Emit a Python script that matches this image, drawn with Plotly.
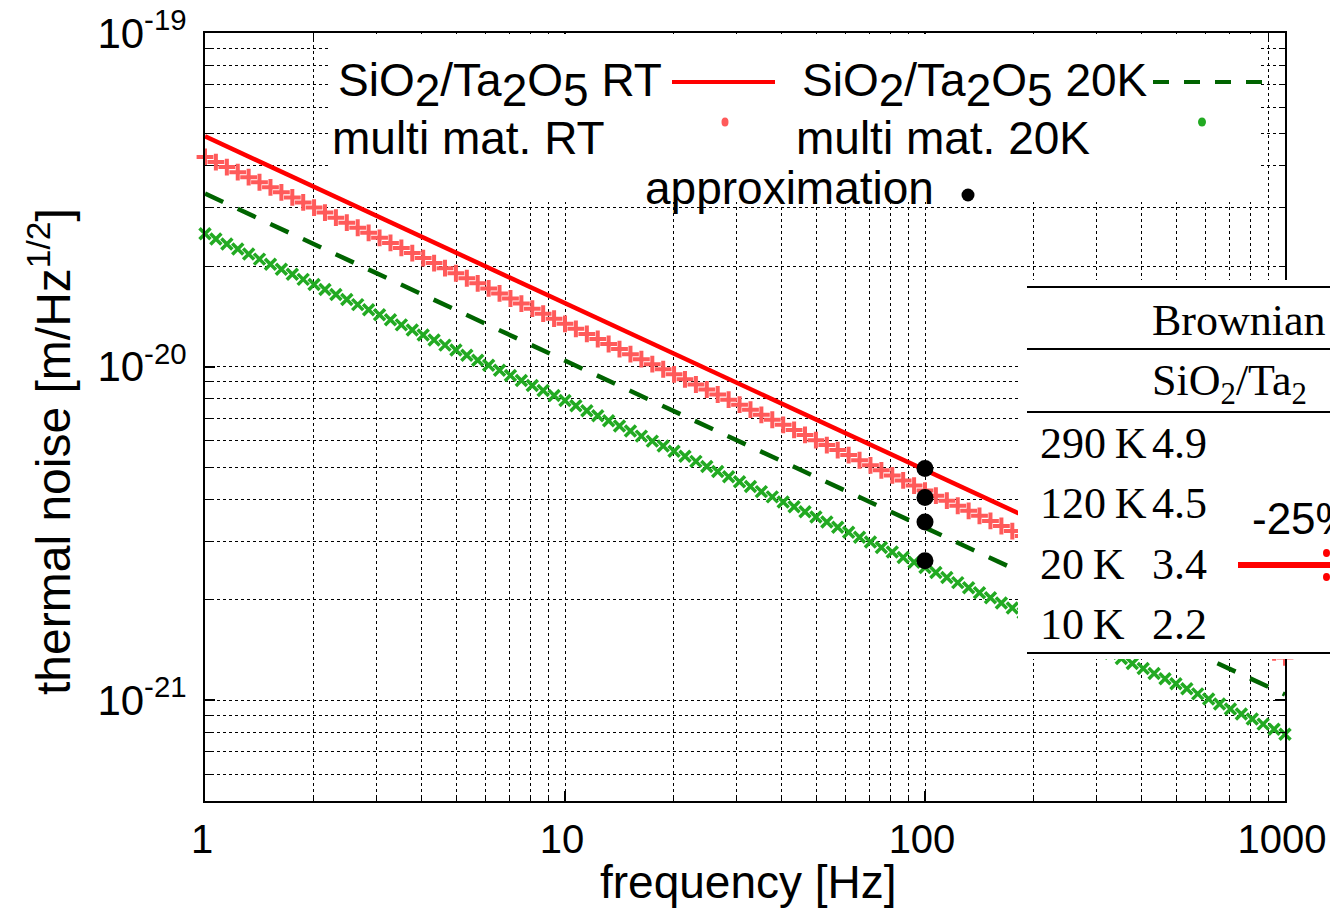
import plotly.graph_objects as go

# ---------------- data (noise values in units of 1e-21 m/Hz^1/2) ----------------
SCALE = 1e-21

freq_line = [1, 1000]
sio2_rt_line = [49.0, 1.55]
sio2_20k_line = [33.0, 1.04]

freq_samples = [
    1.000, 1.072, 1.150, 1.233, 1.322, 1.417, 1.520, 1.630, 1.748, 1.874, 2.009,
    2.154, 2.310, 2.477, 2.656, 2.848, 3.054, 3.275, 3.511, 3.765, 4.037, 4.329,
    4.642, 4.977, 5.337, 5.722, 6.136, 6.579, 7.055, 7.565, 8.111, 8.697, 9.326,
    10.00, 10.72, 11.50, 12.33, 13.22, 14.17, 15.20, 16.30, 17.48, 18.74, 20.09,
    21.54, 23.10, 24.77, 26.56, 28.48, 30.54, 32.75, 35.11, 37.65, 40.37, 43.29,
    46.42, 49.77, 53.37, 57.22, 61.36, 65.79, 70.55, 75.65, 81.11, 86.97, 93.26,
    100.0, 107.2, 115.0, 123.3, 132.2, 141.7, 152.0, 163.0, 174.8, 187.4, 200.9,
    215.4, 231.0, 247.7, 265.6, 284.8, 305.4, 327.5, 351.1, 376.5, 403.7, 432.9,
    464.2, 497.7, 533.7, 572.2, 613.6, 657.9, 705.5, 756.5, 811.1, 869.7, 932.6,
    1000.0,
]

multi_rt = [
    42.50, 41.04, 39.64, 38.28, 36.96, 35.70, 34.47, 33.29, 32.15, 31.05, 29.98,
    28.95, 27.96, 27.00, 26.08, 25.18, 24.32, 23.49, 22.68, 21.90, 21.15, 20.43,
    19.73, 19.05, 18.40, 17.77, 17.16, 16.57, 16.00, 15.45, 14.92, 14.41, 13.92,
    13.44, 12.98, 12.53, 12.10, 11.69, 11.29, 10.90, 10.53, 10.17, 9.82, 9.48,
    9.16, 8.84, 8.54, 8.25, 7.96, 7.69, 7.43, 7.17, 6.93, 6.69, 6.46,
    6.24, 6.02, 5.82, 5.62, 5.43, 5.24, 5.06, 4.89, 4.72, 4.56, 4.40,
    4.250, 4.104, 3.964, 3.828, 3.696, 3.570, 3.447, 3.329, 3.215, 3.105, 2.998,
    2.895, 2.796, 2.700, 2.608, 2.518, 2.432, 2.349, 2.268, 2.190, 2.115, 2.043,
    1.973, 1.905, 1.840, 1.777, 1.716, 1.657, 1.600, 1.545, 1.492, 1.441, 1.392,
    1.344,
]

multi_20k = [
    25.00, 24.14, 23.32, 22.52, 21.74, 21.00, 20.28, 19.58, 18.91, 18.26, 17.64,
    17.03, 16.45, 15.88, 15.34, 14.81, 14.31, 13.82, 13.34, 12.88, 12.44, 12.02,
    11.60, 11.21, 10.82, 10.45, 10.09, 9.75, 9.41, 9.09, 8.78, 8.48, 8.19,
    7.91, 7.63, 7.37, 7.12, 6.88, 6.64, 6.41, 6.19, 5.98, 5.78, 5.58,
    5.39, 5.20, 5.02, 4.85, 4.68, 4.52, 4.37, 4.22, 4.07, 3.93, 3.80,
    3.67, 3.54, 3.42, 3.30, 3.19, 3.08, 2.98, 2.87, 2.78, 2.68, 2.59,
    2.500, 2.414, 2.332, 2.252, 2.174, 2.100, 2.028, 1.958, 1.891, 1.826, 1.764,
    1.703, 1.645, 1.588, 1.534, 1.481, 1.431, 1.382, 1.334, 1.288, 1.244, 1.202,
    1.160, 1.121, 1.082, 1.045, 1.009, 0.975, 0.941, 0.909, 0.878, 0.848, 0.819,
    0.791,
]

approx_freq = [100, 100, 100, 100]
approx_vals = [4.95, 4.05, 3.42, 2.62]

table_header = "Brownian"
table_subheader = "SiO<sub>2</sub>/Ta<sub>2</sub>"
table_temps = ["290\u2009K", "120\u2009K", "20\u2009K", "10\u2009K"]
table_vals = ["4.9", "4.5", "3.4", "2.2"]
reduction_label = "-25%"

x_tick_vals = [1, 10, 100, 1000]
x_tick_text = ["1", "10", "100", "1000"]
x_minor_vals = [m * d for d in (1, 10, 100) for m in range(2, 10)]
y_tick_vals = [1e-21, 1e-20, 1e-19]
y_tick_text = ["10<sup>-21</sup>", "10<sup>-20</sup>", "10<sup>-19</sup>"]
y_minor_vals = [m * d for d in (1e-22, 1e-21, 1e-20) for m in range(2, 10)]

SUB = '<sub><span style="font-size:46px">{}</span></sub>'
legend_names = [
    "SiO" + SUB.format(2) + "/Ta" + SUB.format(2) + "O" + SUB.format(5) + " RT",
    "SiO" + SUB.format(2) + "/Ta" + SUB.format(2) + "O" + SUB.format(5) + " 20K",
    "multi mat. RT",
    "multi mat. 20K",
    "approximation",
]

# ---------------- styling ----------------
W, H = 1330, 911
L, R, T, B = 205, 45, 33, 110
PW, PH = W - L - R, H - T - B

def px(x):
    return (x - L) / PW

def py(y):
    return (H - B - y) / PH

SANS = "Liberation Sans, Arial, sans-serif"
SERIF = "Liberation Serif, Times New Roman, serif"
RED = "#ff0000"
PINK = "#ff5a5a"
DKGREEN = "#006400"
GREEN = "#22aa22"

def scaled(v):
    return [a * SCALE for a in v]

fig = go.Figure()
fig.add_trace(go.Scatter(x=freq_samples, y=scaled(multi_20k), mode="markers",
                         marker=dict(symbol="x-thin-open", size=11, color=GREEN,
                                     line=dict(width=3.5, color=GREEN)),
                         cliponaxis=False, name="multi mat. 20K"))
fig.add_trace(go.Scatter(x=freq_line, y=scaled(sio2_20k_line), mode="lines",
                         line=dict(color=DKGREEN, width=4.5, dash="20px,16px"),
                         name="SiO2/Ta2O5 20K"))
fig.add_trace(go.Scatter(x=freq_samples, y=scaled(multi_rt), mode="markers",
                         marker=dict(symbol="cross-thin-open", size=12, color=PINK,
                                     line=dict(width=4, color=PINK)),
                         cliponaxis=False, name="multi mat. RT"))
fig.add_trace(go.Scatter(x=freq_line, y=scaled(sio2_rt_line), mode="lines",
                         line=dict(color=RED, width=4.5), name="SiO2/Ta2O5 RT"))
fig.add_trace(go.Scatter(x=approx_freq, y=scaled(approx_vals), mode="markers",
                         marker=dict(symbol="circle", size=17, color="black"),
                         cliponaxis=False, name="approximation"))

axis_common = dict(
    type="log", showline=True, linecolor="black", linewidth=2, mirror="ticks",
    ticks="inside", ticklen=10, tickwidth=1.5, tickcolor="black",
    showgrid=True, gridcolor="black", gridwidth=1, griddash="dot",
    zeroline=False, automargin=False,
)

fig.update_xaxes(**axis_common, range=[0, 3], tickmode="array",
                 tickvals=x_tick_vals, ticktext=x_tick_text,
                 tickfont=dict(family=SANS, size=40, color="black"),
                 minor=dict(tickmode="array", tickvals=x_minor_vals, ticks="inside",
                            ticklen=6, tickwidth=1, tickcolor="black", showgrid=True,
                            gridcolor="black", gridwidth=1, griddash="dot"),
                 ticklabelstandoff=2, ticklabelshift=-3)
fig.update_yaxes(**axis_common, range=[-21.302, -19], tickmode="array",
                 tickvals=y_tick_vals, ticktext=y_tick_text,
                 tickfont=dict(family=SANS, size=42, color="black"),
                 minor=dict(tickmode="array", tickvals=y_minor_vals, ticks="inside",
                            ticklen=6, tickwidth=1, tickcolor="black", showgrid=True,
                            gridcolor="black", gridwidth=1, griddash="dot"),
                 ticklabelstandoff=8)

shapes = []
# key background (covers grid; leaves the data line visible near its left corner)
for x0, y0, y1 in [(330, 34, 188), (357, 188, 202)]:
    shapes.append(dict(type="rect", xref="paper", yref="paper", x0=px(x0), x1=px(1260),
                       y0=py(y1), y1=py(y0), fillcolor="white", line=dict(width=0),
                       layer="above"))
# key samples
shapes.append(dict(type="line", xref="paper", yref="paper", x0=px(672), x1=px(775),
                   y0=py(82), y1=py(82), line=dict(color=RED, width=4), layer="above"))
shapes.append(dict(type="line", xref="paper", yref="paper", x0=px(1153), x1=px(1262),
                   y0=py(82), y1=py(82), line=dict(color=DKGREEN, width=4, dash="16px,15px"),
                   layer="above"))
for cx, cy, rx, ry, col in [(725, 122, 3.5, 4.5, PINK), (1202, 122, 4, 4.5, GREEN),
                            (968, 195, 6.5, 6.5, "black")]:
    shapes.append(dict(type="circle", xref="paper", yref="paper",
                       x0=px(cx - rx), x1=px(cx + rx), y0=py(cy + ry), y1=py(cy - ry),
                       fillcolor=col, line=dict(width=0), layer="above"))
# table overlay
shapes.append(dict(type="rect", xref="paper", yref="paper", x0=px(1018), x1=px(1330),
                   y0=py(659), y1=py(280), fillcolor="white", line=dict(width=0),
                   layer="above"))
for yy in [287, 349, 412, 653]:
    shapes.append(dict(type="line", xref="paper", yref="paper", x0=px(1027), x1=px(1330),
                       y0=py(yy), y1=py(yy), line=dict(color="black", width=2),
                       layer="above"))
# red arrow
shapes.append(dict(type="line", xref="paper", yref="paper", x0=px(1238), x1=px(1330),
                   y0=py(565), y1=py(565), line=dict(color=RED, width=6), layer="above"))
for cy in [553, 577]:
    shapes.append(dict(type="circle", xref="paper", yref="paper",
                       x0=px(1323), x1=px(1330), y0=py(cy + 4), y1=py(cy - 4),
                       fillcolor=RED, line=dict(width=0), layer="above"))

ann = []
def text(x, y, s, size=46, family=SANS, xanchor="right", yanchor="middle", angle=0):
    ann.append(dict(xref="paper", yref="paper", x=px(x), y=py(y), text=s, showarrow=False,
                    xanchor=xanchor, yanchor=yanchor, textangle=angle,
                    font=dict(family=family, size=size, color="black")))

text(664, 85, legend_names[0], size=46)
text(1150, 85, legend_names[1], size=46)
text(607, 138, legend_names[2])
text(1092, 138, legend_names[3])
text(936, 188, legend_names[4])

text(748, 882, "frequency [Hz]", xanchor="center")
text(50, 452, "thermal noise [m/Hz<sup>1/2</sup>]", size=48, xanchor="center", angle=-90)

# table text
text(1150, 320, table_header, size=44, family=SERIF, xanchor="left")
text(1150, 383, table_subheader, size=44, family=SERIF, xanchor="left")
for i, (tlab, tval) in enumerate(zip(table_temps, table_vals)):
    yy = 443 + i * 60.5
    text(1038, yy, tlab, size=44, family=SERIF, xanchor="left")
    text(1150, yy, tval, size=44, family=SERIF, xanchor="left")
text(1250, 518, reduction_label, size=44, xanchor="left")

fig.update_layout(
    width=W, height=H, autosize=False,
    margin=dict(l=L, r=R, t=T, b=B, pad=0, autoexpand=False),
    paper_bgcolor="white", plot_bgcolor="white",
    showlegend=False, shapes=shapes, annotations=ann,
    font=dict(family=SANS, color="black"),
)

fig.write_html("out.html")
